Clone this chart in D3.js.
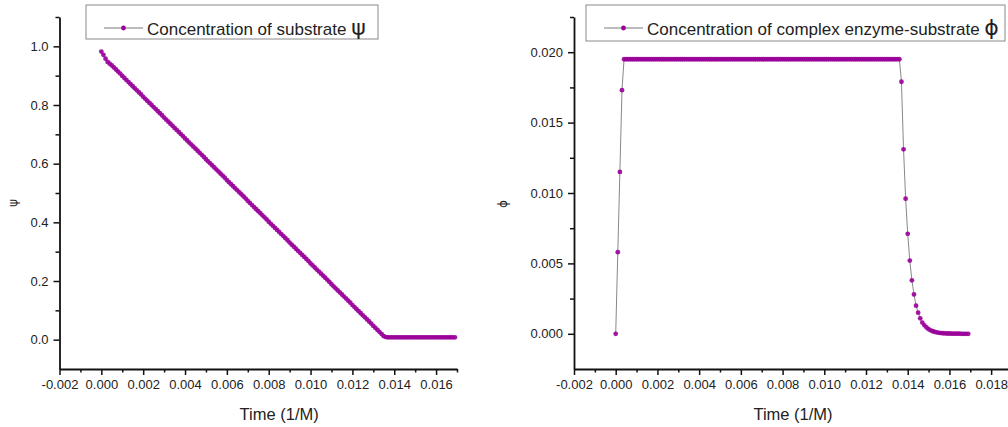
<!DOCTYPE html>
<html>
<head>
<meta charset="utf-8">
<script src="https://cdn.jsdelivr.net/npm/d3@7"></script>
<style>
  body { margin: 0; background: #fff; }
  svg text { font-family: "Liberation Sans", Arial, sans-serif; }
</style>
</head>
<body>
<div class="container"></div>
<script>
//=================================================
// Data
//=================================================
var time = [
  0.0000, 0.0001, 0.0002, 0.0003, 0.0004, 0.0005, 0.0006, 0.0007, 0.0008, 0.0009,
  0.0010, 0.0011, 0.0012, 0.0013, 0.0014, 0.0015, 0.0016, 0.0017, 0.0018, 0.0019,
  0.0020, 0.0021, 0.0022, 0.0023, 0.0024, 0.0025, 0.0026, 0.0027, 0.0028, 0.0029,
  0.0030, 0.0031, 0.0032, 0.0033, 0.0034, 0.0035, 0.0036, 0.0037, 0.0038, 0.0039,
  0.0040, 0.0041, 0.0042, 0.0043, 0.0044, 0.0045, 0.0046, 0.0047, 0.0048, 0.0049,
  0.0050, 0.0051, 0.0052, 0.0053, 0.0054, 0.0055, 0.0056, 0.0057, 0.0058, 0.0059,
  0.0060, 0.0061, 0.0062, 0.0063, 0.0064, 0.0065, 0.0066, 0.0067, 0.0068, 0.0069,
  0.0070, 0.0071, 0.0072, 0.0073, 0.0074, 0.0075, 0.0076, 0.0077, 0.0078, 0.0079,
  0.0080, 0.0081, 0.0082, 0.0083, 0.0084, 0.0085, 0.0086, 0.0087, 0.0088, 0.0089,
  0.0090, 0.0091, 0.0092, 0.0093, 0.0094, 0.0095, 0.0096, 0.0097, 0.0098, 0.0099,
  0.0100, 0.0101, 0.0102, 0.0103, 0.0104, 0.0105, 0.0106, 0.0107, 0.0108, 0.0109,
  0.0110, 0.0111, 0.0112, 0.0113, 0.0114, 0.0115, 0.0116, 0.0117, 0.0118, 0.0119,
  0.0120, 0.0121, 0.0122, 0.0123, 0.0124, 0.0125, 0.0126, 0.0127, 0.0128, 0.0129,
  0.0130, 0.0131, 0.0132, 0.0133, 0.0134, 0.0135, 0.0136, 0.0137, 0.0138, 0.0139,
  0.0140, 0.0141, 0.0142, 0.0143, 0.0144, 0.0145, 0.0146, 0.0147, 0.0148, 0.0149,
  0.0150, 0.0151, 0.0152, 0.0153, 0.0154, 0.0155, 0.0156, 0.0157, 0.0158, 0.0159,
  0.0160, 0.0161, 0.0162, 0.0163, 0.0164, 0.0165, 0.0166, 0.0167, 0.0168, 0.0169
];

// concentration of substrate (psi)
var psi = [
  0.982, 0.971, 0.958, 0.947, 0.941, 0.935, 0.928, 0.921, 0.914, 0.907,
  0.899, 0.892, 0.885, 0.878, 0.871, 0.864, 0.857, 0.850, 0.843, 0.836,
  0.828, 0.821, 0.814, 0.807, 0.800, 0.793, 0.786, 0.779, 0.772, 0.765,
  0.757, 0.750, 0.743, 0.736, 0.729, 0.722, 0.715, 0.708, 0.701, 0.694,
  0.686, 0.679, 0.672, 0.665, 0.658, 0.651, 0.644, 0.637, 0.630, 0.623,
  0.615, 0.608, 0.601, 0.594, 0.587, 0.580, 0.573, 0.566, 0.559, 0.552,
  0.544, 0.537, 0.530, 0.523, 0.516, 0.509, 0.502, 0.495, 0.488, 0.481,
  0.473, 0.466, 0.459, 0.452, 0.445, 0.438, 0.431, 0.424, 0.417, 0.410,
  0.402, 0.395, 0.388, 0.381, 0.374, 0.367, 0.360, 0.353, 0.346, 0.339,
  0.331, 0.324, 0.317, 0.310, 0.303, 0.296, 0.289, 0.282, 0.275, 0.268,
  0.260, 0.253, 0.246, 0.239, 0.232, 0.225, 0.218, 0.211, 0.204, 0.197,
  0.189, 0.182, 0.175, 0.168, 0.161, 0.154, 0.147, 0.140, 0.133, 0.126,
  0.118, 0.111, 0.104, 0.097, 0.090, 0.083, 0.076, 0.069, 0.062, 0.055,
  0.047, 0.040, 0.033, 0.026, 0.019, 0.012, 0.009, 0.008, 0.008, 0.008,
  0.008, 0.008, 0.008, 0.008, 0.008, 0.008, 0.008, 0.008, 0.008, 0.008,
  0.008, 0.008, 0.008, 0.008, 0.008, 0.008, 0.008, 0.008, 0.008, 0.008,
  0.008, 0.008, 0.008, 0.008, 0.008, 0.008, 0.008, 0.008, 0.008, 0.008
];

// concentration of complex enzyme-substrate (phi)
var phi = [
  0.0000, 0.0058, 0.0115, 0.0173, 0.0195, 0.0195, 0.0195, 0.0195, 0.0195, 0.0195,
  0.0195, 0.0195, 0.0195, 0.0195, 0.0195, 0.0195, 0.0195, 0.0195, 0.0195, 0.0195,
  0.0195, 0.0195, 0.0195, 0.0195, 0.0195, 0.0195, 0.0195, 0.0195, 0.0195, 0.0195,
  0.0195, 0.0195, 0.0195, 0.0195, 0.0195, 0.0195, 0.0195, 0.0195, 0.0195, 0.0195,
  0.0195, 0.0195, 0.0195, 0.0195, 0.0195, 0.0195, 0.0195, 0.0195, 0.0195, 0.0195,
  0.0195, 0.0195, 0.0195, 0.0195, 0.0195, 0.0195, 0.0195, 0.0195, 0.0195, 0.0195,
  0.0195, 0.0195, 0.0195, 0.0195, 0.0195, 0.0195, 0.0195, 0.0195, 0.0195, 0.0195,
  0.0195, 0.0195, 0.0195, 0.0195, 0.0195, 0.0195, 0.0195, 0.0195, 0.0195, 0.0195,
  0.0195, 0.0195, 0.0195, 0.0195, 0.0195, 0.0195, 0.0195, 0.0195, 0.0195, 0.0195,
  0.0195, 0.0195, 0.0195, 0.0195, 0.0195, 0.0195, 0.0195, 0.0195, 0.0195, 0.0195,
  0.0195, 0.0195, 0.0195, 0.0195, 0.0195, 0.0195, 0.0195, 0.0195, 0.0195, 0.0195,
  0.0195, 0.0195, 0.0195, 0.0195, 0.0195, 0.0195, 0.0195, 0.0195, 0.0195, 0.0195,
  0.0195, 0.0195, 0.0195, 0.0195, 0.0195, 0.0195, 0.0195, 0.0195, 0.0195, 0.0195,
  0.0195, 0.0195, 0.0195, 0.0195, 0.0195, 0.0195, 0.0195, 0.0179, 0.0131, 0.0096,
  0.0071, 0.0052, 0.0038, 0.0028, 0.0020, 0.0015, 0.0011, 0.0008, 0.0006, 0.00045,
  0.00033, 0.00025, 0.00018, 0.00013, 0.00010, 0.00007, 0.00005, 0.00004, 0.00003, 0.00002,
  0.00002, 0.00001, 0.00001, 0.00001, 0.00001, 0.00001, 0.0, 0.0, 0.0, 0.0
];

// ticks and labels
var xTicks = [-0.002, 0.000, 0.002, 0.004, 0.006, 0.008, 0.010, 0.012, 0.014, 0.016, 0.018];
var xTickLabels = ["-0.002", "0.000", "0.002", "0.004", "0.006", "0.008", "0.010", "0.012", "0.014", "0.016", "0.018"];
var xMinorTicks = [-0.001, 0.001, 0.003, 0.005, 0.007, 0.009, 0.011, 0.013, 0.015, 0.017, 0.019];

var psiTicks = [0.0, 0.2, 0.4, 0.6, 0.8, 1.0];
var psiTickLabels = ["0.0", "0.2", "0.4", "0.6", "0.8", "1.0"];
var psiMinorTicks = [0.1, 0.3, 0.5, 0.7, 0.9, 1.1];

var phiTicks = [0.000, 0.005, 0.010, 0.015, 0.020];
var phiTickLabels = ["0.000", "0.005", "0.010", "0.015", "0.020"];
var phiMinorTicks = [0.0025, 0.0075, 0.0125, 0.0175, 0.0225];

var xTitle = "Time (1/M)";

//=================================================
// Svg
//=================================================
var width = 1008,
height = 427,
plotTop = 17,
plotBottom = 369;

var svg = d3.select(".container").
append("svg").
attr("width", width).
attr("height", height);

//=================================================
// Draw one panel
//=================================================
function drawPanel(p) {
  var g = svg.append("g");

  var xScale = d3.scaleLinear().domain(p.xDomain).range(p.xRange);
  var yScale = d3.scaleLinear().domain(p.yDomain).range([plotBottom, plotTop]);

  var xMajor = p.xTicks.filter(d => d <= p.xDomain[1] + 1e-9);

  // minor ticks
  g.append("g").
  attr("class", "minor").
  attr("transform", "translate(0," + plotBottom + ")").
  call(d3.axisBottom(xScale).tickValues(p.xMinor).tickSize(3.5).tickFormat(""));

  g.append("g").
  attr("class", "minor").
  attr("transform", "translate(" + p.xRange[0] + ",0)").
  call(d3.axisLeft(yScale).tickValues(p.yMinor).tickSize(4).tickFormat(""));

  // major axes
  g.append("g").
  attr("class", "axis").
  attr("transform", "translate(0," + plotBottom + ")").
  call(d3.axisBottom(xScale).
    tickValues(xMajor).
    tickSize(6).
    tickSizeOuter(0).
    tickPadding(5).
    tickFormat((d, i) => p.xLabels[i]));

  g.append("g").
  attr("class", "axis").
  attr("transform", "translate(" + p.xRange[0] + ",0)").
  call(d3.axisLeft(yScale).
    tickValues(p.yTicks).
    tickSize(6).
    tickSizeOuter(0).
    tickPadding(5).
    tickFormat((d, i) => p.yLabels[i]));

  g.selectAll(".minor .domain").remove();
  g.selectAll(".minor line").attr("stroke", "#111").attr("stroke-width", 1.5);
  g.selectAll(".axis .domain").attr("stroke", "#111").attr("stroke-width", 1.8);
  g.selectAll(".axis line").attr("stroke", "#111").attr("stroke-width", 1.5);
  g.selectAll(".axis text").
  attr("font-size", "13px").
  attr("fill", "#222").
  style("font-family", "'Liberation Sans', Arial, sans-serif");

  // connecting line
  var line = d3.line().
  x(d => xScale(d[0])).
  y(d => yScale(d[1]));

  var pts = time.map((t, i) => [t, p.values[i]]);

  g.append("path").
  datum(pts).
  attr("d", line).
  attr("fill", "none").
  attr("stroke", "#7a7a7a").
  attr("stroke-width", 0.9);

  // markers
  g.selectAll("circle.pt").
  data(pts).
  enter().
  append("circle").
  attr("class", "pt").
  attr("cx", d => xScale(d[0])).
  attr("cy", d => yScale(d[1])).
  attr("r", 2.4).
  attr("fill", "#990099").
  attr("fill-opacity", 0.9);

  // axis titles
  g.append("text").
  attr("x", xScale(0.0085)).
  attr("y", 420).
  attr("text-anchor", "middle").
  attr("font-size", "16.5px").
  attr("fill", "#222").
  text(xTitle);

  g.append("text").
  attr("transform", "translate(" + p.yTitlePos[0] + "," + p.yTitlePos[1] + ") rotate(-90)").
  attr("text-anchor", "middle").
  attr("font-size", "12px").
  attr("fill", "#222").
  style("font-family", "'DejaVu Sans', sans-serif").
  text(p.yTitle);

  // legend
  var lg = p.legend;
  g.append("rect").
  attr("x", lg.x).
  attr("y", lg.y).
  attr("width", lg.w).
  attr("height", lg.h).
  attr("fill", "#fff").
  attr("stroke", "#8a8a8a").
  attr("stroke-width", 1);

  g.append("line").
  attr("x1", lg.x + 18).
  attr("x2", lg.x + 57).
  attr("y1", lg.y + 23).
  attr("y2", lg.y + 23).
  attr("stroke", "#7a7a7a").
  attr("stroke-width", 1);

  g.append("circle").
  attr("cx", lg.x + 37.5).
  attr("cy", lg.y + 23).
  attr("r", 2.4).
  attr("fill", "#990099");

  var lt = g.append("text").
  attr("x", lg.x + 61).
  attr("y", lg.y + 30).
  attr("font-size", "17px").
  attr("fill", "#222");
  lt.append("tspan").text(lg.label + " ");
  lt.append("tspan").
  attr("font-size", "22px").
  style("font-family", "'DejaVu Sans', sans-serif").
  text(p.yTitle);
}

//=================================================
// Left panel: substrate
//=================================================
drawPanel({
  xDomain: [-0.002, 0.017],
  xRange: [59.5, 457],
  yDomain: [-0.1, 1.1],
  xTicks: xTicks,
  xLabels: xTickLabels,
  xMinor: xMinorTicks.filter(d => d <= 0.017),
  yTicks: psiTicks,
  yLabels: psiTickLabels,
  yMinor: psiMinorTicks,
  values: psi,
  yTitle: "\u03C8",
  yTitlePos: [17, 203],
  legend: { x: 86, y: 5, w: 292, h: 34, label: "Concentration of substrate" }
});

//=================================================
// Right panel: complex enzyme-substrate
//=================================================
drawPanel({
  xDomain: [-0.002, 0.019],
  xRange: [574, 1012],
  yDomain: [-0.0025, 0.0225],
  xTicks: xTicks,
  xLabels: xTickLabels,
  xMinor: xMinorTicks,
  yTicks: phiTicks,
  yLabels: phiTickLabels,
  yMinor: phiMinorTicks,
  values: phi,
  yTitle: "\u03D5",
  yTitlePos: [507, 204],
  legend: { x: 586, y: 5, w: 419, h: 36, label: "Concentration of complex enzyme-substrate" }
});
</script>
</body>
</html>
